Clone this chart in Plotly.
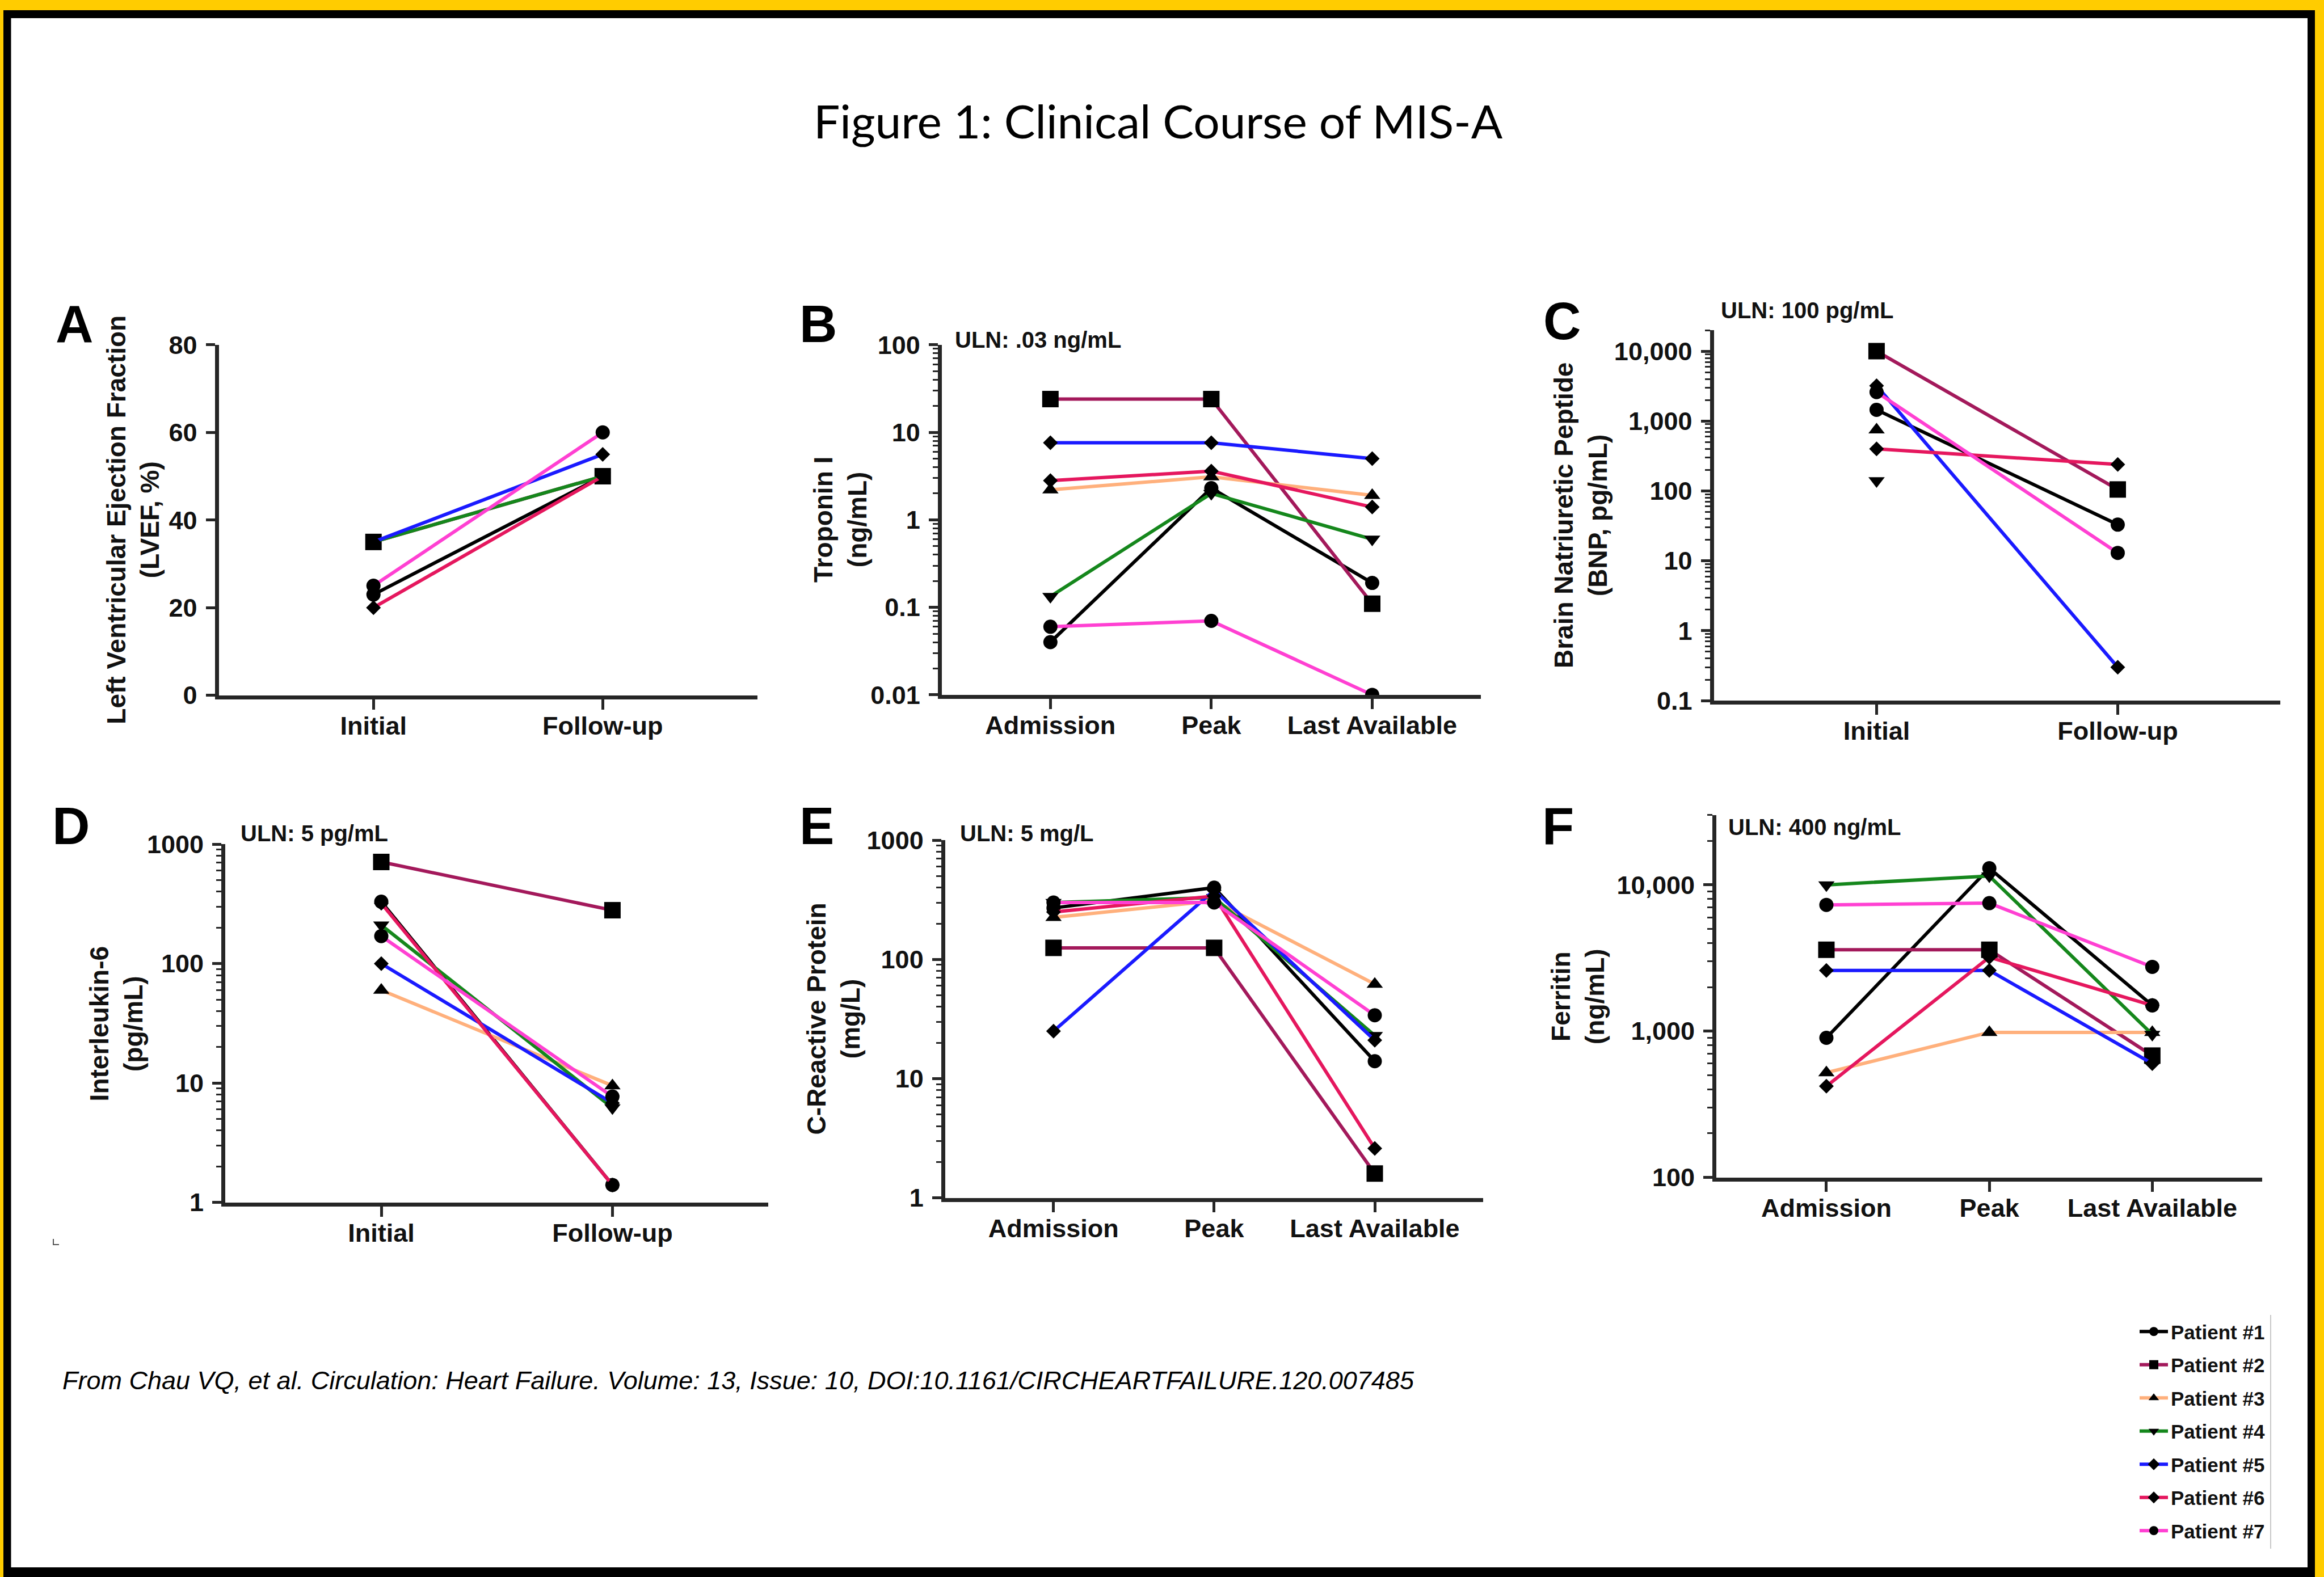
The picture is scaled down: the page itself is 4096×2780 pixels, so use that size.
import plotly.graph_objects as go

W, H = 4096, 2780

# ---------------- data ----------------
patients = ["Patient #1", "Patient #2", "Patient #3", "Patient #4",
            "Patient #5", "Patient #6", "Patient #7"]
line_colors = ["#000000", "#A3195B", "#FFB07C", "#15871C",
               "#1A1AFF", "#E5175E", "#FF40D2"]
symbols = ["circle", "square", "triangle-up", "triangle-down",
           "diamond", "diamond", "circle"]

cats_two = ["Initial", "Follow-up"]
cats_three = ["Admission", "Peak", "Last Available"]

# Panel A: LVEF (%)
lvef = [[23, 50], [35, 50], [None, None], [35, 50], [35, 55], [20, 50], [25, 60]]
# Panel B: Troponin I (ng/mL)
troponin = [[0.04, 2.3, 0.19], [24, 24, 0.11], [2.2, 3.1, 1.9], [0.133, 2.0, 0.6],
            [7.6, 7.6, 5.0], [2.8, 3.6, 1.4], [0.06, 0.07, 0.01]]
# Panel C: BNP (pg/mL)
bnp = [[1450, 33], [10000, 105], [750, None], [140, None],
       [3200, 0.3], [400, 240], [2600, 13]]
# Panel D: IL-6 (pg/mL)
il6 = [[330, 1.4], [710, 280], [60, 9.5], [210, 6.2], [100, 6.8], [320, 1.4], [170, 7.7]]
# Panel E: CRP (mg/L)
crp = [[270, 400, 14], [125, 125, 1.6], [225, 310, 62], [300, 330, 23],
       [25, 380, 21], [250, 340, 2.6], [300, 300, 34]]
# Panel F: Ferritin (ng/mL)
ferritin = [[900, 13000, 1500], [3600, 3600, 680], [520, 980, 980], [10000, 11500, 950],
            [2600, 2600, 600], [420, 3200, 1500], [7300, 7500, 2750]]

ticks_lvef = [0, 20, 40, 60, 80]
ticks_trop = [0.01, 0.1, 1, 10, 100]
ticklabels_trop = ["0.01", "0.1", "1", "10", "100"]
ticks_bnp = [0.1, 1, 10, 100, 1000, 10000]
ticklabels_bnp = ["0.1", "1", "10", "100", "1,000", "10,000"]
ticks_il6 = [1, 10, 100, 1000]
ticklabels_il6 = ["1", "10", "100", "1000"]
ticks_fer = [100, 1000, 10000]
ticklabels_fer = ["100", "1,000", "10,000"]

# ---------------- styling ----------------
FONT = "Liberation Sans, Arial, Helvetica, sans-serif"
AX = "#262626"
TXT = "#111111"
marker_sizes = {"circle": 25, "square": 29, "triangle-up": 25,
                "triangle-down": 25, "diamond": 20}


def minor_vals(lo_exp, hi_exp, extra=()):
    vals = []
    for e in range(lo_exp, hi_exp):
        for m in range(2, 10):
            vals.append(m * 10 ** e)
    return vals + list(extra)


# panel geometry in output pixels: (left, right, top, bottom)
panels = [
    dict(data=lvef, cats=cats_two, log=False, yrange=[0, 80], tv=ticks_lvef,
         tt=[str(v) for v in ticks_lvef], minor=None, box=(385.5, 1335, 607.8, 1225.7)),
    dict(data=troponin, cats=cats_three, log=True, yrange=[-2, 2], tv=ticks_trop,
         tt=ticklabels_trop, minor=minor_vals(-2, 2), box=(1659.9, 2609.9, 607.8, 1224.9)),
    dict(data=bnp, cats=cats_two, log=True, yrange=[-1, 4.301], tv=ticks_bnp,
         tt=ticklabels_bnp, minor=minor_vals(-1, 4, (20000,)), box=(3020.5, 4019.4, 582, 1235.1)),
    dict(data=il6, cats=cats_two, log=True, yrange=[0, 3], tv=ticks_il6,
         tt=ticklabels_il6, minor=minor_vals(0, 3), box=(397, 1354.4, 1488.2, 2119.7)),
    dict(data=crp, cats=cats_three, log=True, yrange=[0, 3], tv=ticks_il6,
         tt=ticklabels_il6, minor=minor_vals(0, 3), box=(1665.7, 2614.1, 1481.1, 2111.7)),
    dict(data=ferritin, cats=cats_three, log=True, yrange=[2, 4.4771], tv=ticks_fer,
         tt=ticklabels_fer, minor=minor_vals(2, 4, (20000, 30000)), box=(3025.1, 3987.2, 1436.9, 2075.5)),
]

fig = go.Figure()
layout_axes = {}

for i, p in enumerate(panels):
    n = i + 1
    xa = "x" if n == 1 else f"x{n}"
    ya = "y" if n == 1 else f"y{n}"
    for j, name in enumerate(patients):
        sym = symbols[j]
        fig.add_trace(go.Scatter(
            x=p["cats"], y=p["data"][j], xaxis=xa, yaxis=ya,
            mode="lines+markers", name=name, legendgroup=name,
            showlegend=(i == 1), connectgaps=False,
            line=dict(color=line_colors[j], width=6),
            marker=dict(symbol=sym, size=marker_sizes[sym], color="#000000",
                        line=dict(width=0)),
            hoverinfo="skip",
        ))
    l, r, t, b = p["box"]
    ncat = len(p["cats"])
    xkey = "xaxis" if n == 1 else f"xaxis{n}"
    ykey = "yaxis" if n == 1 else f"yaxis{n}"
    layout_axes[xkey] = dict(
        domain=[l / W, r / W], anchor=ya, type="category",
        categoryorder="array", categoryarray=p["cats"],
        range=[-0.675, ncat - 1 + 0.675], automargin=False,
        showline=True, linecolor=AX, linewidth=7,
        ticks="outside", ticklen=18, tickwidth=5, tickcolor=AX,
        ticklabelstandoff=-10,
        tickfont=dict(family=FONT, size=45, color=TXT, weight="bold"),
        showgrid=False, zeroline=False, fixedrange=True,
    )
    yax = dict(
        domain=[1 - b / H, 1 - t / H], anchor=xa, automargin=False,
        type="log" if p["log"] else "linear", range=p["yrange"],
        tickmode="array", tickvals=p["tv"], ticktext=p["tt"],
        showline=True, linecolor=AX, linewidth=7,
        ticks="outside", ticklen=16, tickwidth=5, tickcolor=AX,
        ticklabelstandoff=6,
        tickfont=dict(family=FONT, size=45, color=TXT, weight="bold"),
        showgrid=False, zeroline=False, fixedrange=True,
    )
    if p["minor"]:
        yax["minor"] = dict(ticks="outside", ticklen=9, tickwidth=3,
                            tickcolor=AX, tickmode="array", tickvals=p["minor"],
                            showgrid=False)
    layout_axes[ykey] = yax


def px(x):
    return x / W


def py(y):
    return 1 - y / H


annotations = []

# Title
annotations.append(dict(text="Figure 1: Clinical Course of MIS-A", x=px(2041), y=py(212),
                        xref="paper", yref="paper", xanchor="center", yanchor="middle",
                        showarrow=False, font=dict(family="Lato, Carlito, sans-serif", size=82, color="#000")))

# Panel letters (x_left, y_middle)
letters = [("A", 96, 571), ("B", 1407, 571), ("C", 2718, 566),
           ("D", 90, 1456), ("E", 1407, 1456), ("F", 2716, 1456)]
for txt, x, y in letters:
    annotations.append(dict(text=txt, x=px(x), y=py(y), xref="paper", yref="paper",
                            xanchor="left", yanchor="middle", showarrow=False,
                            font=dict(family=FONT, size=92, color="#000", weight="bold")))

# ULN notes
uln = [("ULN: .03 ng/mL", 1681, 599), ("ULN: 100 pg/mL", 3031, 547),
       ("ULN: 5 pg/mL", 422, 1469), ("ULN: 5 mg/L", 1690, 1469),
       ("ULN: 400 ng/mL", 3044, 1458)]
for txt, x, y in uln:
    annotations.append(dict(text=txt, x=px(x), y=py(y), xref="paper", yref="paper",
                            xanchor="left", yanchor="middle", showarrow=False,
                            font=dict(family=FONT, size=40, color=TXT, weight="bold")))

# Axis titles (rotated)
ytitles = [("Left Ventricular Ejection Fraction<br>(LVEF, %)", 234.7, 916),
           ("Troponin I<br>(ng/mL)", 1481, 916),
           ("Brain Natriuretic Peptide<br>(BNP, pg/mL)", 2786, 909),
           ("Interleukin-6<br>(pg/mL)", 205.4, 1804),
           ("C-Reactive Protein<br>(mg/L)", 1469.4, 1796),
           ("Ferritin<br>(ng/mL)", 2781, 1757)]
for txt, x, y in ytitles:
    annotations.append(dict(text=txt, x=px(x), y=py(y), xref="paper", yref="paper",
                            xanchor="center", yanchor="middle", textangle=-90,
                            showarrow=False,
                            font=dict(family=FONT, size=46, color=TXT, weight="bold")))

# Citation
annotations.append(dict(
    text="From Chau VQ, et al. Circulation: Heart Failure. Volume: 13, Issue: 10, DOI:10.1161/CIRCHEARTFAILURE.120.007485",
    x=px(108), y=py(2433), xref="paper", yref="paper", xanchor="left", yanchor="middle",
    showarrow=False, font=dict(family=FONT, size=45, color="#000", style="italic")))

shapes = [
    dict(type="rect", xref="paper", yref="paper", x0=px(6), x1=px(4080), y0=py(2780), y1=py(18),
         fillcolor="#000000", line=dict(width=0), layer="below"),
    dict(type="rect", xref="paper", yref="paper", x0=px(19.5), x1=px(4067), y0=py(2763), y1=py(32),
         fillcolor="#FFFFFF", line=dict(width=0), layer="below"),
    dict(type="line", xref="paper", yref="paper", x0=px(4002), x1=px(4002), y0=py(2730), y1=py(2318),
         line=dict(color="#C8C8C8", width=2), layer="above"),
    dict(type="path", xref="paper", yref="paper",
         path=f"M {px(94)} {py(2184)} L {px(94)} {py(2194)} L {px(104)} {py(2194)}",
         line=dict(color="#555555", width=2)),
]

fig.update_layout(
    template="none",
    width=W, height=H, autosize=False,
    margin=dict(l=0, r=0, t=0, b=0, pad=0, autoexpand=False),
    paper_bgcolor="#FFCC00", plot_bgcolor="rgba(0,0,0,0)",
    showlegend=True,
    legend=dict(x=px(3766), y=py(2318), xanchor="left", yanchor="top",
                bgcolor="rgba(0,0,0,0)", borderwidth=0,
                font=dict(family=FONT, size=35, color=TXT, weight="bold"),
                tracegroupgap=10, itemwidth=50, traceorder="grouped"),
    annotations=annotations, shapes=shapes,
    **layout_axes,
)

fig.write_html("out.html",
               config={"displayModeBar": False, "staticPlot": False},
               post_script="document.body.style.margin='0px';document.body.style.padding='0px';")
